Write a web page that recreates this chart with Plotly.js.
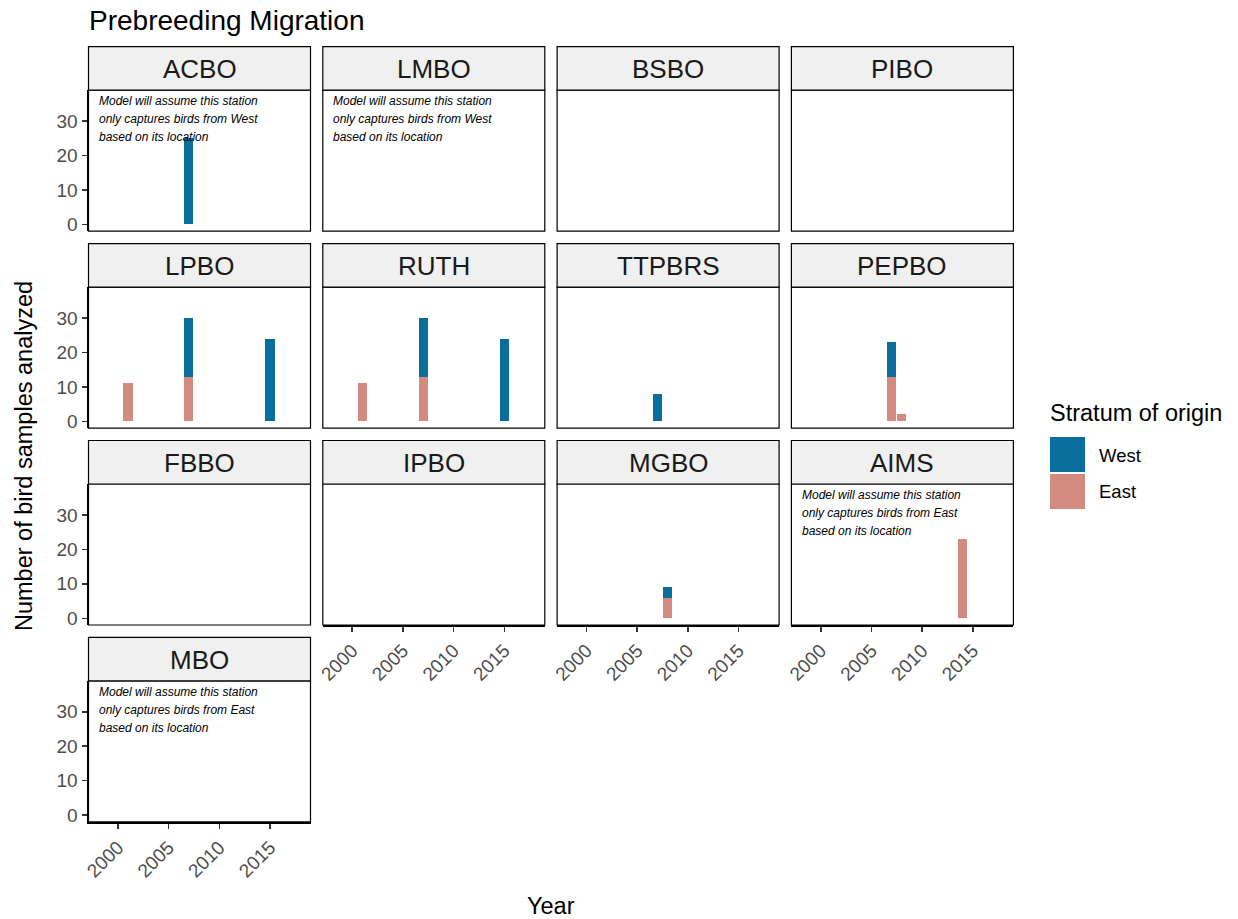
<!DOCTYPE html>
<html>
<head>
<meta charset="utf-8">
<script src="https://cdn.plot.ly/plotly-3.0.1.min.js"></script>
<style>html,body{margin:0;padding:0;background:#fff;}#chart{width:1238px;height:919px;}</style>
</head>
<body>
<div id="chart"></div>
<script>
// ---------------- data ----------------
const stations = ["ACBO","LMBO","BSBO","PIBO","LPBO","RUTH","TTPBRS","PEPBO","FBBO","IPBO","MGBO","AIMS","MBO"];
const barStation = ["ACBO","LPBO","LPBO","LPBO","RUTH","RUTH","RUTH","TTPBRS","PEPBO","PEPBO","MGBO","AIMS"];
const barYear    = [2007, 2001, 2007, 2015, 2001, 2007, 2015, 2007, 2007, 2008, 2008, 2014];
const westCount  = [25,   0,    17,   24,   0,    17,   24,   8,    10,   0,    3,    0];
const eastCount  = [0,    11,   13,   0,    11,   13,   0,    0,    13,   2,    6,    23];
const noteStations = ["ACBO","LMBO","AIMS","MBO"];
const noteStrata   = ["West","West","East","East"];
const strata = ["West","East"];
const xTicks = [2000, 2005, 2010, 2015];
const yTicks = [0, 10, 20, 30];

// ---------------- style ----------------
const W = 1238, H = 919;
const colors = {West: "#0a6e9c", East: "#d38b80"};
const FONT = "Liberation Sans, Arial, sans-serif";
const nCol = 4;
const colLeft0 = 88.5, colStep = 234.3, panelW = 222;
const stripTop0 = 46.7, rowStep = 196.9, stripH = 43.5, panelH = 141;
const xRange = [1997.1, 2019.0];
const yRange = [-1.95, 38.95];

const traces = [];
const layout = {
  width: W, height: H,
  margin: {l: 0, r: 0, t: 0, b: 0},
  paper_bgcolor: "#fff", plot_bgcolor: "#fff",
  barmode: "stack",
  bargap: 0,
  showlegend: false,
  font: {family: FONT, color: "#000"},
  title: {text: "Prebreeding Migration", x: 89 / W, xanchor: "left", xref: "paper",
          y: 1 - 20 / H, yanchor: "middle", yref: "paper",
          font: {family: FONT, size: 28, color: "#000"}},
  shapes: [], annotations: []
};

const nStations = stations.length;

stations.forEach((st, i) => {
  const row = Math.floor(i / nCol), col = i % nCol;
  const n = i + 1;
  const xa = "x" + (n === 1 ? "" : n), ya = "y" + (n === 1 ? "" : n);
  const left = colLeft0 + col * colStep, right = left + panelW;
  const sTop = stripTop0 + row * rowStep;
  const pTop = sTop + stripH, pBot = pTop + panelH;
  // bottom-most panel in its column shows x axis
  const showX = (i + nCol >= nStations);
  const showY = (col === 0);

  // bars: East first (bottom), then West
  ["East", "West"].forEach(s => {
    const xs = [], ys = [];
    barStation.forEach((b, k) => {
      const v = s === "West" ? westCount[k] : eastCount[k];
      if (b === st && v > 0) { xs.push(barYear[k]); ys.push(v); }
    });
    traces.push({type: "bar", x: xs, y: ys, name: s, xaxis: xa, yaxis: ya,
      width: xs.map(() => 0.9), marker: {color: colors[s], line: {width: 0}},
      showlegend: false, hoverinfo: "x+y+name"});
  });

  layout["xaxis" + (n === 1 ? "" : n)] = {
    domain: [left / W, right / W], anchor: ya, range: xRange, fixedrange: true,
    tickvals: xTicks, ticktext: xTicks.map(String), showticklabels: showX,
    ticks: showX ? "outside" : "", ticklen: 5, tickwidth: 1.5, tickcolor: "#333",
    tickangle: -45, tickfont: {family: FONT, size: 19, color: "#4d4d4d"},
    showgrid: false, zeroline: false,
    showline: showX, linecolor: "#000", linewidth: 2
  };
  layout["yaxis" + (n === 1 ? "" : n)] = {
    domain: [1 - pBot / H, 1 - pTop / H], anchor: xa, range: yRange, fixedrange: true,
    tickvals: yTicks, ticktext: yTicks.map(String), showticklabels: showY,
    ticks: showY ? "outside" : "", ticklen: 5, tickwidth: 1.5, tickcolor: "#333",
    tickfont: {family: FONT, size: 19, color: "#4d4d4d"},
    showgrid: false, zeroline: false,
    showline: showY, linecolor: "#000", linewidth: 2
  };

  // panel border
  layout.shapes.push({type: "rect", xref: "paper", yref: "paper",
    x0: left / W, x1: right / W, y0: 1 - pBot / H, y1: 1 - pTop / H,
    line: {color: "#000", width: 1.2}, fillcolor: "rgba(0,0,0,0)", layer: "above"});
  // strip
  layout.shapes.push({type: "rect", xref: "paper", yref: "paper",
    x0: left / W, x1: right / W, y0: 1 - pTop / H, y1: 1 - sTop / H,
    line: {color: "#000", width: 1.2}, fillcolor: "#f0f0f0", layer: "above"});
  layout.annotations.push({xref: "paper", yref: "paper",
    x: (left + right) / 2 / W, y: 1 - (sTop + stripH / 2 + 1) / H,
    xanchor: "center", yanchor: "middle", showarrow: false, text: st,
    font: {family: FONT, size: 26, color: "#1a1a1a"}});

  // note
  const ni = noteStations.indexOf(st);
  if (ni >= 0) {
    const lines = ["Model will assume this station",
                   "only captures birds from " + noteStrata[ni],
                   "based on its location"];
    lines.forEach((t, li) => {
      layout.annotations.push({xref: "paper", yref: "paper",
        x: (left + 8.5) / W, y: 1 - (pTop + 11 + li * 18) / H,
        xanchor: "left", yanchor: "middle", showarrow: false,
        text: "<i>" + t + "</i>",
        font: {family: FONT, size: 12, color: "#000"}});
    });
  }
});

// axis titles
layout.annotations.push({xref: "paper", yref: "paper", x: 24 / W, y: 1 - 456 / H,
  xanchor: "center", yanchor: "middle", textangle: -90, showarrow: false,
  text: "Number of bird samples analyzed", font: {family: FONT, size: 23.5, color: "#000"}});
layout.annotations.push({xref: "paper", yref: "paper", x: 551 / W, y: 1 - 906 / H,
  xanchor: "center", yanchor: "middle", showarrow: false,
  text: "Year", font: {family: FONT, size: 23.5, color: "#000"}});

// legend (drawn as keys + labels)
layout.annotations.push({xref: "paper", yref: "paper", x: 1048 / W, y: 1 - 413 / H,
  xanchor: "left", yanchor: "middle", showarrow: false,
  text: "Stratum of origin", font: {family: FONT, size: 23.5, color: "#000"}});
strata.forEach((s, k) => {
  const top = 437 + k * 37;
  layout.shapes.push({type: "rect", xref: "paper", yref: "paper",
    x0: 1050 / W, x1: 1085 / W, y0: 1 - (top + 35) / H, y1: 1 - top / H,
    line: {width: 0}, fillcolor: colors[s]});
  layout.annotations.push({xref: "paper", yref: "paper", x: 1097 / W, y: 1 - (top + 18) / H,
    xanchor: "left", yanchor: "middle", showarrow: false,
    text: s, font: {family: FONT, size: 18.5, color: "#000"}});
});

Plotly.newPlot("chart", traces, layout, {displayModeBar: false, staticPlot: true});
</script>
</body>
</html>
